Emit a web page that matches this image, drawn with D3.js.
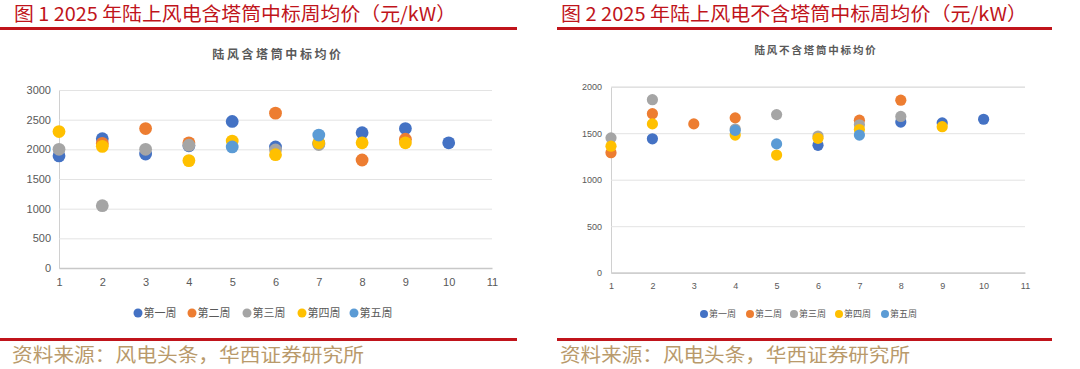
<!DOCTYPE html>
<html><head><meta charset="utf-8">
<script src="https://cdn.jsdelivr.net/npm/d3@7/dist/d3.min.js"></script>
<style>body{margin:0;background:#fff}svg{display:block}</style>
</head><body>
<svg id="c" width="1080" height="369"></svg>
<script>
// ---- data ----
const months = [1,2,3,4,5,6,7,8,9,10];
const xTicks = [1,2,3,4,5,6,7,8,9,10,11];
const seriesNames = ["第一周","第二周","第三周","第四周","第五周"];
const seriesColors = ["#4472C4","#ED7D31","#A5A5A5","#FFC000","#5B9BD5"];

// 含塔筒 (left)
const withTower_w1 = [1890, 2180, 1920, 2060, 2470, 2040, 2100, 2280, 2350, 2110];
const withTower_w2 = [null, 2100, 2350, 2110, null, 2610, null, 1820, 2170, null];
const withTower_w3 = [2000, 1050, 2000, 2070, null, 1990, 2080, null, null, null];
const withTower_w4 = [2300, 2050, null, 1810, 2140, 1910, 2110, 2110, 2110, null];
const withTower_w5 = [null, null, null, null, 2040, null, 2240, null, null, null];
const withTowerTicks = [0,500,1000,1500,2000,2500,3000];

// 不含塔筒 (right)
const noTower_w1 = [null, 1440, null, null, null, 1370, null, 1620, 1610, 1650];
const noTower_w2 = [1290, 1710, 1600, 1665, null, null, 1640, 1855, null, null];
const noTower_w3 = [1450, 1860, null, 1545, 1700, 1470, 1590, 1680, null, null];
const noTower_w4 = [1360, 1600, null, 1480, 1265, 1445, 1540, null, 1570, null];
const noTower_w5 = [null, null, null, 1530, 1385, null, 1480, null, null, null];
const noTowerTicks = [0,500,1000,1500,2000];

const svg = d3.select("#c");
const CJK = "'Noto Sans CJK SC','Noto Sans',sans-serif";
const RED = "#c0141b";
const GOLD = "#b99a6b";

function panel(o){
  const g = svg.append("g");
  // header
  g.append("text").attr("x",o.titleX).attr("y",21).attr("fill",RED)
    .attr("font-family",CJK).attr("font-size",19)
    .attr("textLength",o.titleW).attr("lengthAdjust","spacingAndGlyphs").text(o.title);
  g.append("rect").attr("x",o.lineX0).attr("y",27).attr("width",o.lineX1-o.lineX0).attr("height",3).attr("fill",RED);
  g.append("rect").attr("x",o.lineX0).attr("y",338).attr("width",o.lineX1-o.lineX0).attr("height",3).attr("fill",RED);
  g.append("text").attr("x",o.srcX).attr("y",362).attr("fill",GOLD)
    .attr("font-family",CJK).attr("font-size",19)
    .attr("textLength",o.srcW).attr("lengthAdjust","spacingAndGlyphs").text("资料来源：风电头条，华西证券研究所");
  // subtitle
  g.append("text").attr("x",o.subX).attr("y",o.subY).attr("text-anchor","middle")
    .attr("fill","#595959").attr("font-family",CJK).attr("font-weight","bold")
    .attr("font-size",o.subSize).attr("letter-spacing",o.subLS).text(o.sub);

  const x = d3.scaleLinear().domain([1,11]).range(o.xr);
  const y = d3.scaleLinear().domain([0,o.yMax]).range(o.yr);

  // grid
  const ya = d3.axisLeft(y).tickValues(o.yTicks).tickSize(-(o.xr[1]-o.xr[0])).tickFormat(d3.format("d"));
  const gy = g.append("g").attr("transform",`translate(${o.xr[0]},0)`).call(ya);
  gy.select(".domain").attr("stroke","#d0d0d0");
  gy.selectAll(".tick line").attr("stroke","#e3e3e3").attr("stroke-width",1);
  gy.selectAll(".tick text").attr("x",-o.yLabGap).attr("fill","#595959")
    .attr("font-family","'Liberation Sans',Arial,sans-serif").attr("font-size",o.tickSize);
  const xa = d3.axisBottom(x).tickValues(xTicks).tickSize(0).tickFormat(d3.format("d"));
  const gx = g.append("g").attr("transform",`translate(0,${o.yr[0]})`).call(xa);
  gx.select(".domain").attr("stroke","#c8c8c8").attr("stroke-width",1.3);
  gx.selectAll(".tick text").attr("dy",o.xLabDy).attr("fill","#595959")
    .attr("font-family","'Liberation Sans',Arial,sans-serif").attr("font-size",o.tickSize);

  // points
  o.series.forEach((arr,i)=>{
    g.append("g").selectAll("circle")
      .data(months.map((m,j)=>({m,v:arr[j]})).filter(d=>d.v!=null))
      .join("circle").attr("cx",d=>x(d.m)).attr("cy",d=>y(d.v)).attr("r",o.r)
      .attr("fill",seriesColors[i]);
  });

  // legend
  seriesNames.forEach((n,i)=>{
    const lx = o.legX[i];
    g.append("circle").attr("cx",lx).attr("cy",o.legY).attr("r",o.legR).attr("fill",seriesColors[i]);
    g.append("text").attr("x",lx+o.legR+1).attr("y",o.legY+o.legSize*0.36).attr("fill","#595959")
      .attr("font-family",CJK).attr("font-size",o.legSize).text(n);
  });
}

panel({
  title:"图 1 2025 年陆上风电含塔筒中标周均价（元/kW）", titleX:14, titleW:442,
  lineX0:0, lineX1:517, srcX:12, srcW:352,
  sub:"陆风含塔筒中标均价", subX:278, subY:59, subSize:12, subLS:2.6,
  xr:[59,492], yr:[268,90], yMax:3000, yTicks:withTowerTicks,
  series:[withTower_w1,withTower_w2,withTower_w3,withTower_w4,withTower_w5],
  r:6.4, tickSize:11, yLabGap:8, xLabDy:"1.35em",
  legX:[138,192,247,302,354], legY:313, legR:4.5, legSize:11
});
panel({
  title:"图 2 2025 年陆上风电不含塔筒中标周均价（元/kW）", titleX:561, titleW:466,
  lineX0:557, lineX1:1052, srcX:560, srcW:350,
  sub:"陆风不含塔筒中标均价", subX:816, subY:54, subSize:10.5, subLS:1.8,
  xr:[611,1025], yr:[272.7,86.7], yMax:2000, yTicks:noTowerTicks,
  series:[noTower_w1,noTower_w2,noTower_w3,noTower_w4,noTower_w5],
  r:5.6, tickSize:9, yLabGap:9, xLabDy:"1.45em",
  legX:[704,750,794,839,885], legY:314, legR:4, legSize:9
});
</script>
</body></html>
